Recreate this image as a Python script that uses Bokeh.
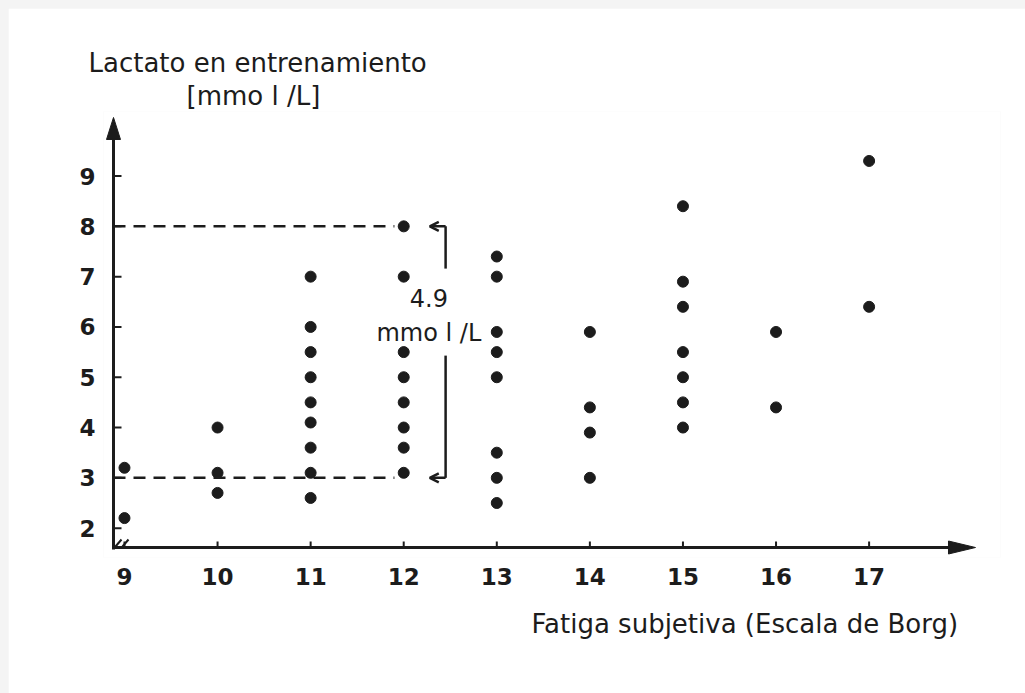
from bokeh.plotting import figure
from bokeh.layouts import column
from bokeh.models import Label, Arrow, OpenHead, FixedTicker, Range1d, Title
from bokeh.embed import file_html
from bokeh.resources import INLINE

# Subjective fatigue (Borg scale) and training lactate (mmol/L), one list per rating
borg_ticks = [9, 10, 11, 12, 13, 14, 15, 16, 17]
lactate_ticks = [2, 3, 4, 5, 6, 7, 8, 9]

lactate_09 = [3.2, 2.2]
lactate_10 = [4.0, 3.1, 2.7]
lactate_11 = [7.0, 6.0, 5.5, 5.0, 4.5, 4.1, 3.6, 3.1, 2.6]
lactate_12 = [8.0, 7.0, 5.5, 5.0, 4.5, 4.0, 3.6, 3.1]
lactate_13 = [7.4, 7.0, 5.9, 5.5, 5.0, 3.5, 3.0, 2.5]
lactate_14 = [5.9, 4.4, 3.9, 3.0]
lactate_15 = [8.4, 6.9, 6.4, 5.5, 5.0, 4.5, 4.0]
lactate_16 = [5.9, 4.4]
lactate_17 = [9.3, 6.4]

# Spread of lactate at rating 12, marked with the bracket
range_high = 8.0
range_low = 3.1
range_text = "4.9"
range_unit = "mmo l /L"

columns = [lactate_09, lactate_10, lactate_11, lactate_12, lactate_13,
           lactate_14, lactate_15, lactate_16, lactate_17]
xs, ys = [], []
for rating, vals in zip(borg_ticks, columns):
    xs += [rating] * len(vals)
    ys += vals

INK = "#1c1c1c"
FONT = "DejaVu Sans"

# Where the drawn axes start and end, in data units
AX_X0, AX_X1 = 8.882, 18.143
AX_Y0, AX_Y1 = 1.615, 10.164
PX_X = 93.07   # pixels per Borg point
PX_Y = 50.3    # pixels per mmol/L

p = figure(width=1017, height=685, output_backend="svg", toolbar_location=None,
           x_range=Range1d(AX_X0 - 10 / PX_X, AX_X1 + 25 / PX_X),
           y_range=Range1d(AX_Y0 - 10 / PX_Y, AX_Y1 + 6 / PX_Y),
           min_border_left=95, min_border_right=25,
           min_border_top=103, min_border_bottom=136,
           background_fill_color="white", border_fill_color="white")
p.margin = (8, 0, 0, 8)
p.outline_line_color = None
p.grid.visible = False

# Tick labels come from the axes; the axis lines themselves are drawn below
for ax, ticks in ((p.xaxis, borg_ticks), (p.yaxis, lactate_ticks)):
    ax.ticker = FixedTicker(ticks=ticks)
    ax.axis_line_color = None
    ax.major_tick_line_color = None
    ax.minor_tick_line_color = None
    ax.major_tick_in = 0
    ax.major_tick_out = 0
    ax.major_label_text_font = FONT
    ax.major_label_text_font_style = "bold"
    ax.major_label_text_font_size = "23px"
    ax.major_label_text_color = INK
p.xaxis.major_label_standoff = 10
p.yaxis.major_label_standoff = 8

# Titles: the y title sits above the plot, the x title below on the right
p.title.text = "Lactato en entrenamiento"
p.title.align = "left"
p.title.offset = -15
p.title.standoff = 2
p.title.text_font = FONT
p.title.text_font_style = "normal"
p.title.text_font_size = "26px"
p.title.text_color = INK
p.add_layout(Title(text="[mmo l /L]", align="left", offset=83,
                   standoff=1, text_font=FONT, text_font_style="normal",
                   text_font_size="26px", text_color=INK), "above")
p.add_layout(Title(text="Fatiga subjetiva (Escala de Borg)", align="left",
                   offset=428, standoff=38, text_font=FONT,
                   text_font_style="normal", text_font_size="26px",
                   text_color=INK), "below")

# Axis lines with arrowheads
p.line(x=[AX_X0, AX_X0], y=[AX_Y0 - 2 / PX_Y, AX_Y1 - 12 / PX_Y], line_color=INK, line_width=3)
p.line(x=[AX_X0 - 1 / PX_X, AX_X1 - 14 / PX_X], y=[AX_Y0, AX_Y0], line_color=INK, line_width=3)
p.patch(x=[AX_X0 - 7 / PX_X, AX_X0, AX_X0 + 7 / PX_X],
        y=[AX_Y1 - 22 / PX_Y, AX_Y1, AX_Y1 - 22 / PX_Y], color=INK)
p.patch(x=[AX_X1 - 27 / PX_X, AX_X1, AX_X1 - 27 / PX_X],
        y=[AX_Y0 + 6.5 / PX_Y, AX_Y0, AX_Y0 - 6.5 / PX_Y], color=INK)

# Tick marks pointing into the plot
p.segment(x0=[AX_X0] * len(lactate_ticks), y0=lactate_ticks,
          x1=[AX_X0 + 8 / PX_X] * len(lactate_ticks), y1=lactate_ticks,
          line_color=INK, line_width=2)
p.segment(x0=borg_ticks, y0=[AX_Y0] * len(borg_ticks),
          x1=borg_ticks, y1=[AX_Y0 + 6 / PX_Y] * len(borg_ticks),
          line_color=INK, line_width=2)

# Axis break mark near the origin
p.multi_line(xs=[[AX_X0 + 2 / PX_X, AX_X0 + 8 / PX_X], [AX_X0 + 9 / PX_X, AX_X0 + 15 / PX_X]],
             ys=[[AX_Y0 + 1 / PX_Y, AX_Y0 + 8 / PX_Y], [AX_Y0 + 1 / PX_Y, AX_Y0 + 8 / PX_Y]],
             line_color=INK, line_width=2)

# Dashed guides from the y axis to the highest and lowest values at rating 12
p.line(x=[AX_X0, 11.9], y=[range_high, range_high], line_color=INK,
       line_width=2.5, line_dash="12 8")
p.line(x=[AX_X0, 11.9], y=[3.0, 3.0], line_color=INK,
       line_width=2.5, line_dash="12 8")

p.scatter(x=xs, y=ys, size=11, color=INK)

# Bracket showing the 4.9 mmol/L spread
bx, tip = 12.45, 12.28
p.line(x=[bx, bx], y=[range_high, 7.16], line_color=INK, line_width=2.5)
p.line(x=[bx, bx], y=[5.43, 3.0], line_color=INK, line_width=2.5)
for yy in (range_high, 3.0):
    p.add_layout(Arrow(x_start=bx, y_start=yy, x_end=tip, y_end=yy,
                       line_color=INK, line_width=2.5,
                       end=OpenHead(size=9, line_color=INK, line_width=2.5)))

p.add_layout(Label(x=12.27, y=6.57, text=range_text, text_font=FONT,
                   text_font_size="24px", text_color=INK,
                   text_align="center", text_baseline="middle"))
p.add_layout(Label(x=12.27, y=5.87, text=range_unit, text_font=FONT,
                   text_font_size="24px", text_color=INK,
                   text_align="center", text_baseline="middle"))

page = column(p, styles={"background-color": "#f4f4f4"})

open("out.html", "w").write(file_html(page, INLINE))
